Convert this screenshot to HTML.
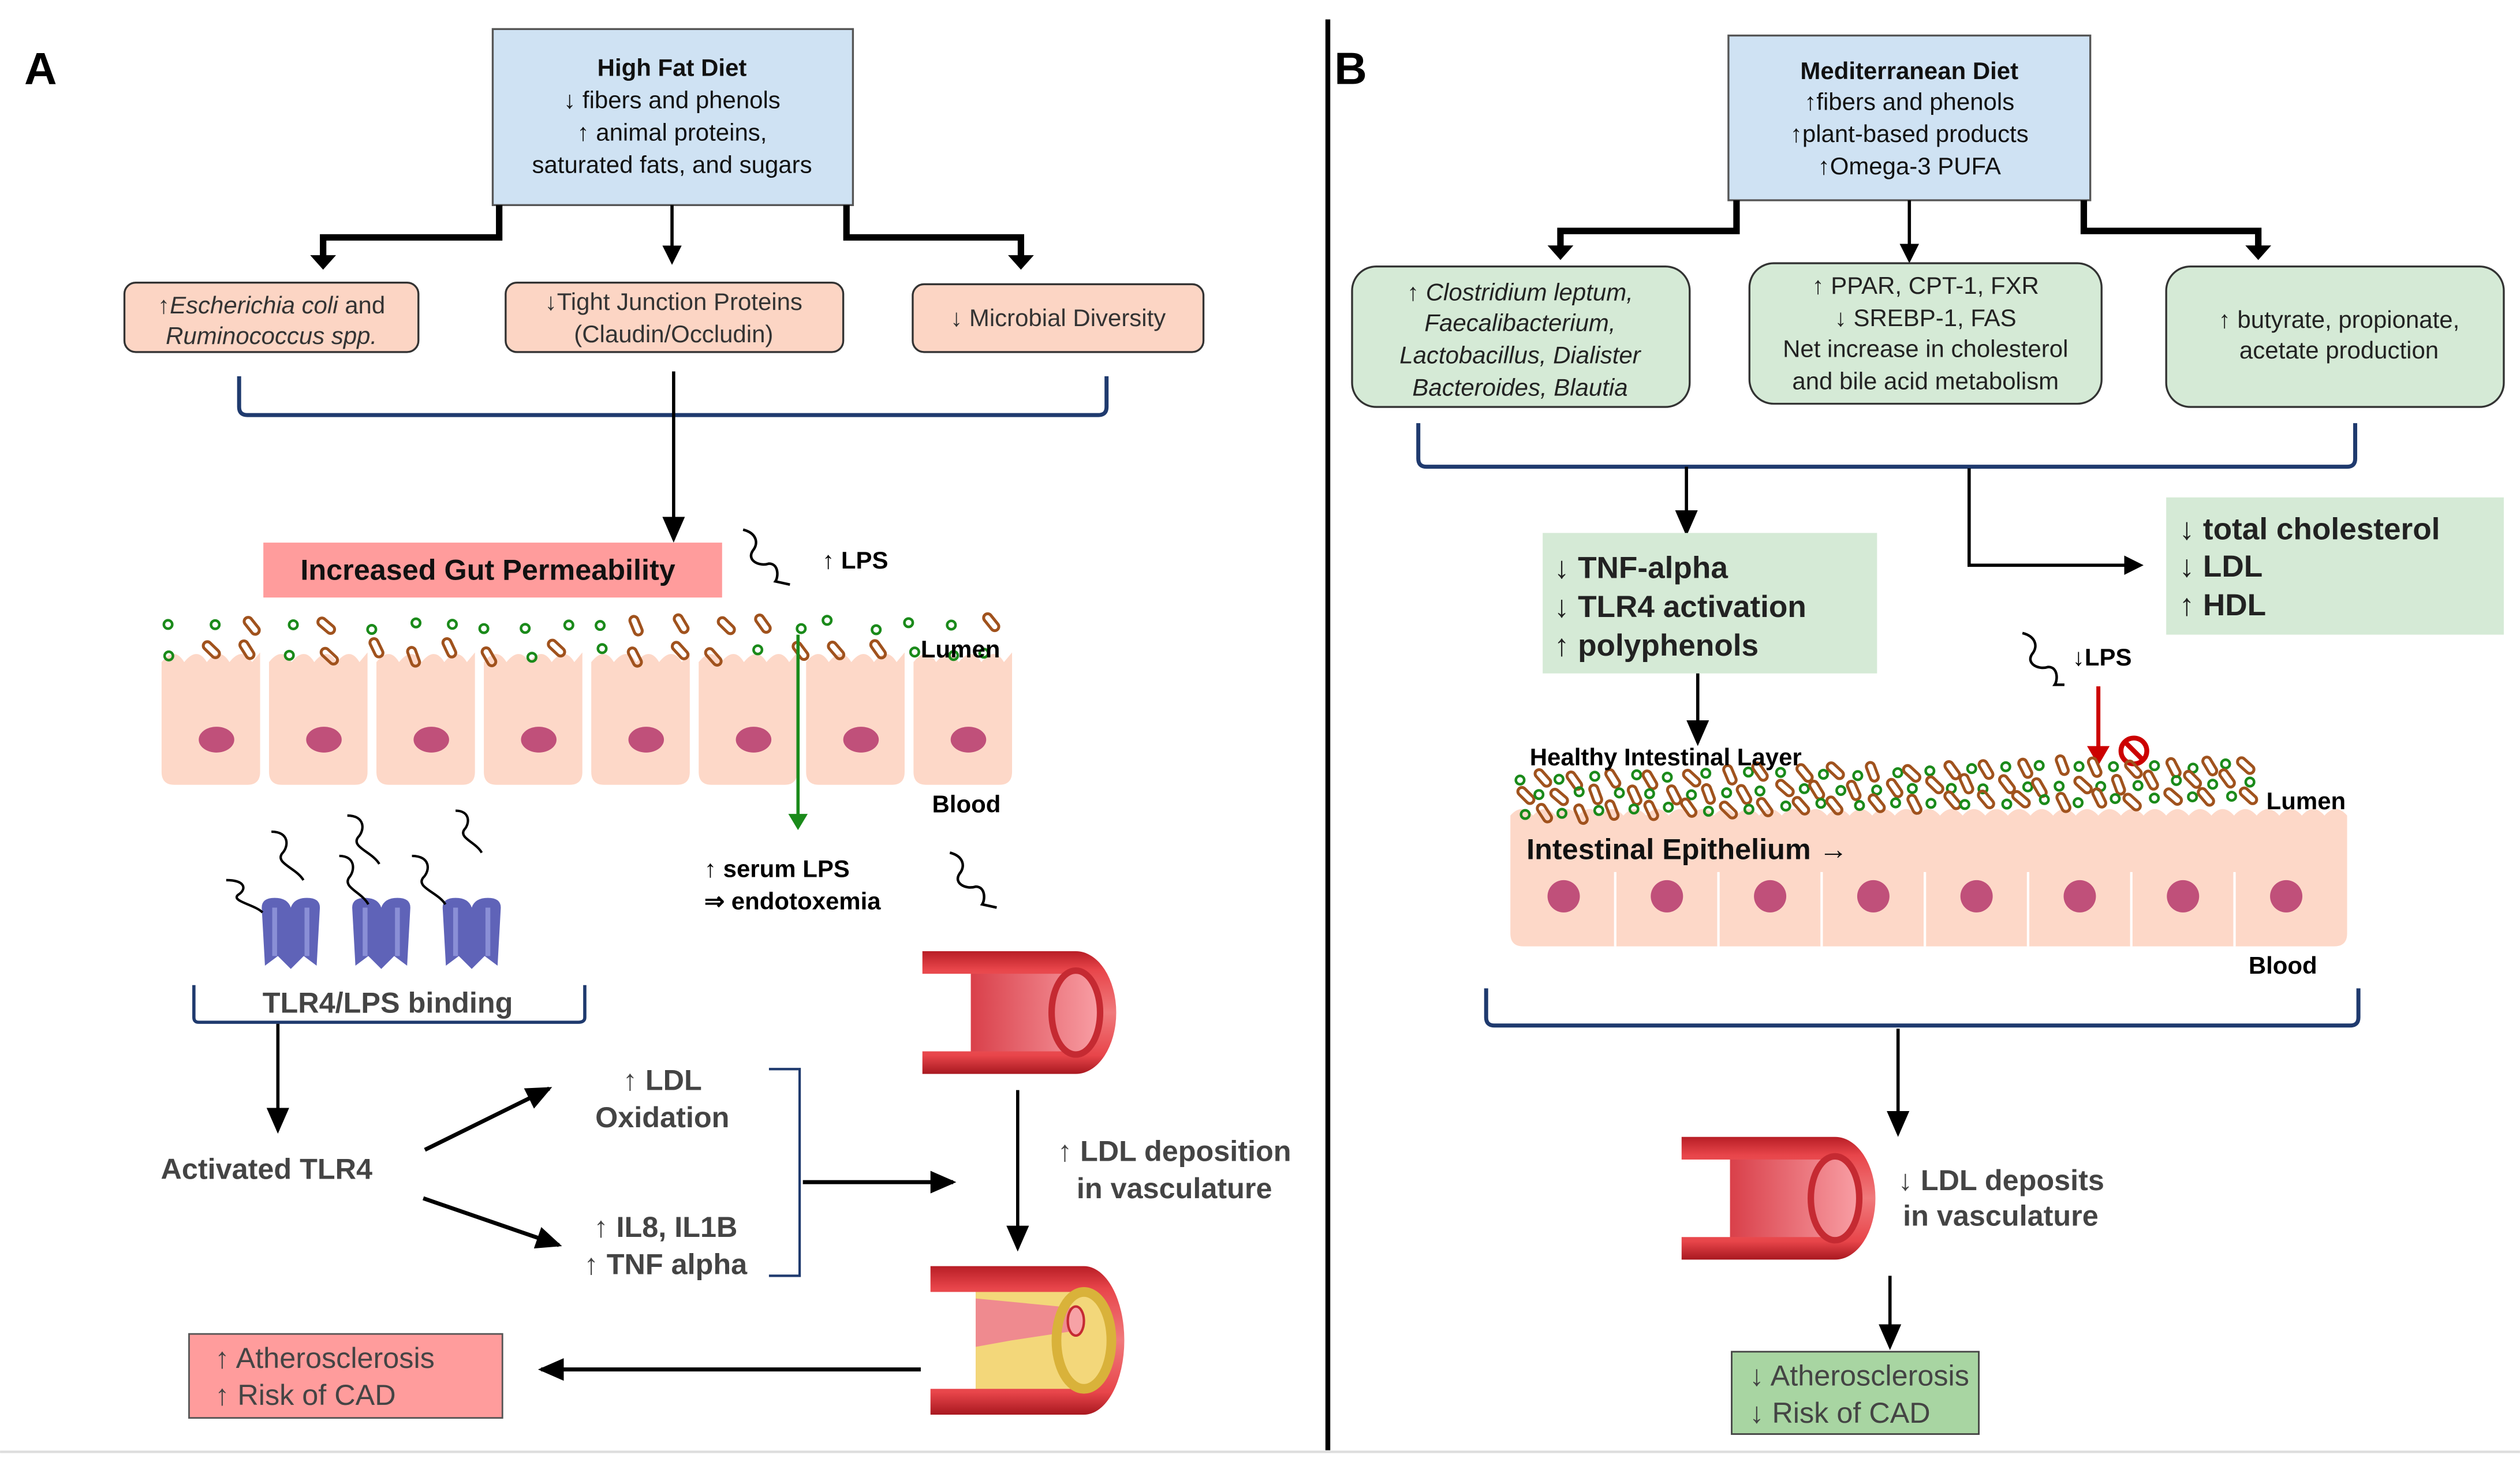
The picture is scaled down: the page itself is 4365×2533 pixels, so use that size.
<!DOCTYPE html>
<html><head><meta charset="utf-8"><style>
html,body{margin:0;padding:0;background:#fff;}
svg{display:block;}
text{font-family:"Liberation Sans",sans-serif;}
</style></head><body>
<svg id="s" xmlns="http://www.w3.org/2000/svg" width="4365" height="2533" viewBox="0 0 1560 905.3">
<defs>
<marker id="ah" markerWidth="12" markerHeight="12" refX="10" refY="6" orient="auto" markerUnits="userSpaceOnUse"><path d="M0,0 L12,6 L0,12 z" fill="#000"/></marker>
<marker id="ahb" markerWidth="16" markerHeight="14" refX="14" refY="7" orient="auto" markerUnits="userSpaceOnUse"><path d="M0,0 L16,7 L0,14 z" fill="#000"/></marker>
<marker id="ahg" markerWidth="10" markerHeight="12" refX="8" refY="6" orient="auto" markerUnits="userSpaceOnUse"><path d="M0,0 L10,6 L0,12 z" fill="#1a8a1a"/></marker>
<marker id="ahr" markerWidth="12" markerHeight="14" refX="10" refY="7" orient="auto" markerUnits="userSpaceOnUse"><path d="M0,0 L12,7 L0,14 z" fill="#c00"/></marker>
<linearGradient id="vg" x1="0" y1="0" x2="0" y2="1"><stop offset="0" stop-color="#b81e26"/><stop offset="0.15" stop-color="#e8454a"/><stop offset="0.5" stop-color="#f07a7c"/><stop offset="0.85" stop-color="#e8454a"/><stop offset="1" stop-color="#a81820"/></linearGradient>
<linearGradient id="vi" x1="0" y1="0" x2="1" y2="0"><stop offset="0" stop-color="#d9404a"/><stop offset="1" stop-color="#f9a0a6"/></linearGradient>
<g id="vessel">
<path d="M0,0 L95,0 A25,38 0 0 1 95,76 L0,76 L0,62 L30,62 L30,14 L0,14 z" fill="url(#vg)"/>
<path d="M30,14 L95,14 A16,24 0 0 1 95,62 L30,62 z" fill="url(#vi)"/>
<ellipse cx="95" cy="38" rx="15" ry="26" fill="none" stroke="#c52a32" stroke-width="4"/>
</g>
</defs>
<rect width="1560" height="905.3" fill="#fff"/>
<line x1="0" y1="899" x2="1560" y2="899" stroke="#ddd" stroke-width="1.5"/>
<line x1="822" y1="12" x2="822" y2="898" stroke="#000" stroke-width="3"/>
<text x="15" y="52" font-size="28" font-weight="bold">A</text>
<text x="826" y="52" font-size="28" font-weight="bold">B</text>

<!-- ===== A ===== -->
<rect x="305" y="18" width="223" height="109" fill="#cfe2f3" stroke="#555" stroke-width="1.2"/>
<g font-size="15" text-anchor="middle" fill="#111">
<text x="416" y="47" font-weight="bold">High Fat Diet</text>
<text x="416" y="67">↓ fibers and phenols</text>
<text x="416" y="87">↑ animal proteins,</text>
<text x="416" y="107">saturated fats, and sugars</text>
</g>
<g fill="none" stroke="#000" stroke-width="4">
<path d="M309,127 V147 H200 V160"/>
<path d="M524,127 V147 H632 V160"/>
</g>
<path d="M192,158 L208,158 L200,167 z M624,158 L640,158 L632,167 z" fill="#000"/>
<line x1="416" y1="127" x2="416" y2="162" stroke="#000" stroke-width="2" marker-end="url(#ah)"/>
<g fill="#fcd5c4" stroke="#333" stroke-width="1.2">
<rect x="77" y="175" width="182" height="43" rx="7"/>
<rect x="313" y="175" width="209" height="43" rx="7"/>
<rect x="565" y="176" width="180" height="42" rx="7"/>
</g>
<g font-size="15" fill="#333" text-anchor="middle">
<text x="168" y="194">↑<tspan font-style="italic">Escherichia coli</tspan> and</text>
<text x="168" y="213" font-style="italic">Ruminococcus spp.</text>
<text x="417" y="192">↓Tight Junction Proteins</text>
<text x="417" y="212">(Claudin/Occludin)</text>
<text x="655" y="202">↓ Microbial Diversity</text>
</g>
<path d="M148,233 V252 Q148,257 153,257 H680 Q685,257 685,252 V233" fill="none" stroke="#1f3a6e" stroke-width="2.5"/>
<line x1="417" y1="230" x2="417" y2="334" stroke="#000" stroke-width="2" marker-end="url(#ahb)"/>
<rect x="163" y="336" width="284" height="34" fill="#ff9c9c"/>
<text x="302" y="359" font-size="18" font-weight="bold" text-anchor="middle" fill="#111">Increased Gut Permeability</text>
<path d="M460,328 c8,2 10,8 6,13 c-4,6 4,10 10,8 c6,0 6,8 4,11 l9,2" fill="none" stroke="#000" stroke-width="1.6"/>
<text x="509" y="352" font-size="15" font-weight="bold">↑ LPS</text>
<g id="cellsA"></g>
<g id="bacA"></g>
<text x="570" y="407" font-size="15" font-weight="bold">Lumen</text>
<text x="577" y="503" font-size="15" font-weight="bold">Blood</text>
<line x1="494" y1="393" x2="494" y2="512" stroke="#1a8a1a" stroke-width="2" marker-end="url(#ahg)"/>
<text x="436" y="543" font-size="15" font-weight="bold">↑ serum LPS</text>
<text x="436" y="563" font-size="15" font-weight="bold">⇒ endotoxemia</text>
<path d="M588,528 c8,2 10,8 6,13 c-4,6 4,10 10,8 c6,0 6,8 4,11 l9,2" fill="none" stroke="#000" stroke-width="1.6"/>
<g id="tlr"></g>
<path d="M120,610 V630 Q120,633 123,633 H358 Q362,633 362,630 V610" fill="none" stroke="#1f3a6e" stroke-width="2"/>
<text x="240" y="627" font-size="18" font-weight="bold" text-anchor="middle" fill="#444">TLR4/LPS binding</text>
<line x1="172" y1="634" x2="172" y2="700" stroke="#000" stroke-width="2" marker-end="url(#ahb)"/>
<text x="165" y="730" font-size="18" font-weight="bold" text-anchor="middle" fill="#444">Activated TLR4</text>
<line x1="263" y1="712" x2="340" y2="674" stroke="#000" stroke-width="2.5" marker-end="url(#ahb)"/>
<line x1="262" y1="742" x2="346" y2="771" stroke="#000" stroke-width="2.5" marker-end="url(#ahb)"/>
<g font-size="18" font-weight="bold" fill="#444" text-anchor="middle">
<text x="410" y="675">↑ LDL</text>
<text x="410" y="698">Oxidation</text>
<text x="412" y="766">↑ IL8, IL1B</text>
<text x="412" y="789">↑ TNF alpha</text>
</g>
<path d="M476,662 H495 V790 H476" fill="none" stroke="#1f3a6e" stroke-width="1.5"/>
<line x1="497" y1="732" x2="590" y2="732" stroke="#000" stroke-width="2.5" marker-end="url(#ahb)"/>
<use href="#vessel" x="571" y="589"/>
<line x1="630" y1="675" x2="630" y2="773" stroke="#000" stroke-width="2" marker-end="url(#ahb)"/>
<text x="727" y="719" font-size="18" font-weight="bold" text-anchor="middle" fill="#444">↑ LDL deposition</text>
<text x="727" y="742" font-size="18" font-weight="bold" text-anchor="middle" fill="#444">in vasculature</text>
<g transform="translate(576,784)">
<path d="M0,0 L95,0 A25,46 0 0 1 95,92 L0,92 L0,76 L28,76 L28,16 L0,16 z" fill="url(#vg)"/>
<path d="M28,16 L95,16 A17,30 0 0 1 95,76 L28,76 z" fill="#f3d77a"/>
<path d="M28,20 L90,26 L90,40 L50,46 L28,50 z" fill="#ef8a8f"/>
<ellipse cx="95" cy="46" rx="17" ry="30" fill="none" stroke="#d9b23a" stroke-width="6"/>
<ellipse cx="90" cy="34" rx="5" ry="9" fill="#f7a2a6" stroke="#c52a32" stroke-width="1.5"/>
</g>
<line x1="570" y1="848" x2="335" y2="848" stroke="#000" stroke-width="2.5" marker-end="url(#ahb)"/>
<rect x="117" y="826" width="194" height="52" fill="#ff9c9c" stroke="#555" stroke-width="1"/>
<text x="133" y="847" font-size="18" fill="#444">↑ Atherosclerosis</text>
<text x="133" y="870" font-size="18" fill="#444">↑ Risk of CAD</text>

<!-- ===== B ===== -->
<rect x="1070" y="22" width="224" height="102" fill="#cfe2f3" stroke="#555" stroke-width="1.2"/>
<g font-size="15" text-anchor="middle" fill="#111">
<text x="1182" y="49" font-weight="bold">Mediterranean Diet</text>
<text x="1182" y="68">↑fibers and phenols</text>
<text x="1182" y="88">↑plant-based products</text>
<text x="1182" y="108">↑Omega-3 PUFA</text>
</g>
<g fill="none" stroke="#000" stroke-width="4">
<path d="M1075,124 V143 H966 V153"/>
<path d="M1290,124 V143 H1398 V153"/>
</g>
<path d="M958,152 L974,152 L966,161 z M1390,152 L1406,152 L1398,161 z" fill="#000"/>
<line x1="1182" y1="124" x2="1182" y2="161" stroke="#000" stroke-width="2" marker-end="url(#ah)"/>
<g fill="#d5ead6" stroke="#333" stroke-width="1.2">
<rect x="837" y="165" width="209" height="87" rx="15"/>
<rect x="1083" y="163" width="218" height="87" rx="15"/>
<rect x="1341" y="165" width="209" height="87" rx="15"/>
</g>
<g font-size="15" fill="#222" text-anchor="middle">
<text x="941" y="186">↑ <tspan font-style="italic">Clostridium leptum,</tspan></text>
<text x="941" y="205" font-style="italic">Faecalibacterium,</text>
<text x="941" y="225" font-style="italic">Lactobacillus, Dialister</text>
<text x="941" y="245" font-style="italic">Bacteroides, Blautia</text>
<text x="1192" y="182">↑ PPAR, CPT-1, FXR</text>
<text x="1192" y="202">↓ SREBP-1, FAS</text>
<text x="1192" y="221">Net increase in cholesterol</text>
<text x="1192" y="241">and bile acid metabolism</text>
<text x="1448" y="203">↑ butyrate, propionate,</text>
<text x="1448" y="222">acetate production</text>
</g>
<path d="M878,262 V284 Q878,289 883,289 H1453 Q1458,289 1458,284 V262" fill="none" stroke="#1f3a6e" stroke-width="2.5"/>
<line x1="1044" y1="289" x2="1044" y2="330" stroke="#000" stroke-width="2" marker-end="url(#ahb)"/>
<path d="M1219,290 V350 H1325" fill="none" stroke="#000" stroke-width="2" marker-end="url(#ah)"/>
<rect x="955" y="330" width="207" height="87" fill="#d5ead6"/>
<g font-size="19" font-weight="bold" fill="#222">
<text x="962" y="358">↓ TNF-alpha</text>
<text x="962" y="382">↓ TLR4 activation</text>
<text x="962" y="406">↑ polyphenols</text>
</g>
<rect x="1341" y="308" width="209" height="85" fill="#d5ead6"/>
<g font-size="19" font-weight="bold" fill="#222">
<text x="1349" y="334">↓ total cholesterol</text>
<text x="1349" y="357">↓ LDL</text>
<text x="1349" y="381">↑ HDL</text>
</g>
<line x1="1051" y1="417" x2="1051" y2="460" stroke="#000" stroke-width="2" marker-end="url(#ahb)"/>
<path d="M1252,392 c8,2 10,8 6,13 c-4,6 4,10 10,8 c6,0 6,8 4,11 l6,0" fill="none" stroke="#000" stroke-width="1.6"/>
<text x="1283" y="412" font-size="15" font-weight="bold">↓LPS</text>
<line x1="1299" y1="425" x2="1299" y2="472" stroke="#c00" stroke-width="2.5" marker-end="url(#ahr)"/>
<circle cx="1321" cy="465" r="8" fill="#fff" stroke="#c00" stroke-width="3"/>
<line x1="1315" y1="459" x2="1327" y2="471" stroke="#c00" stroke-width="3"/>
<g id="cellsB"></g>
<g id="bacB"></g>
<text x="947" y="474" font-size="15" font-weight="bold">Healthy Intestinal Layer</text>
<text x="945" y="532" font-size="18" font-weight="bold" fill="#111">Intestinal Epithelium →</text>
<text x="1403" y="501" font-size="15" font-weight="bold">Lumen</text>
<text x="1392" y="603" font-size="15" font-weight="bold">Blood</text>
<path d="M920,612 V630 Q920,635 925,635 H1455 Q1460,635 1460,630 V612" fill="none" stroke="#1f3a6e" stroke-width="2.5"/>
<line x1="1175" y1="637" x2="1175" y2="702" stroke="#000" stroke-width="2" marker-end="url(#ahb)"/>
<use href="#vessel" x="1041" y="704"/>
<text x="1175" y="737" font-size="18" font-weight="bold" fill="#444">↓ LDL deposits</text>
<text x="1178" y="759" font-size="18" font-weight="bold" fill="#444">in vasculature</text>
<line x1="1170" y1="790" x2="1170" y2="834" stroke="#000" stroke-width="2" marker-end="url(#ahb)"/>
<rect x="1072" y="837" width="153" height="51" fill="#a8d5a2" stroke="#444" stroke-width="1"/>
<text x="1083" y="858" font-size="18" fill="#444">↓ Atherosclerosis</text>
<text x="1083" y="881" font-size="18" fill="#444">↓  Risk of CAD</text>
</svg>
<script>
(function(){
var NS="http://www.w3.org/2000/svg";
function el(p,t,a){var e=document.createElementNS(NS,t);for(var k in a)e.setAttribute(k,a[k]);p.appendChild(e);return e;}
var seed=11;function r(){seed=(seed*16807)%2147483647;return seed/2147483647;}
function bac(g,x,y,green){
if(green)el(g,'circle',{cx:x,cy:y,r:2.6,fill:'none',stroke:'#1a8a1a','stroke-width':1.6});
else el(g,'rect',{x:x-6,y:y-2.5,width:12,height:5,rx:2.5,fill:'none',stroke:'#a0521d','stroke-width':1.8,transform:'rotate('+(40+r()*30)+' '+x+' '+y+')'});}
var gA=document.getElementById('cellsA');
for(var i=0;i<8;i++){var x=100+i*66.5;
el(gA,'path',{d:'M'+x+',410 q8,-10 14,0 q8,-10 14,0 q8,-10 14,0 q8,-10 14,0 l5,-6 V478 q0,8 -8,8 H'+(x+8)+' q-8,0 -8,-8 z',fill:'#fdd8c8'});
el(gA,'ellipse',{cx:x+34,cy:458,rx:11,ry:8,fill:'#c0507a'});}
var bA=document.getElementById('bacA');
for(var c=0;c<22;c++)for(var rw=0;rw<2;rw++){
var x=104+c*24+r()*10,y=384+rw*17+r()*6;bac(bA,x,y,r()<0.5);}
var gB=document.getElementById('cellsB');
el(gB,'path',{d:'M935,505 '+(function(){var s='';for(var k=0;k<37;k++)s+='q7,-8 14,0 ';return s;})()+' V578 q0,8 -8,8 H943 q-8,0 -8,-8 z',fill:'#fdd8c8'});
for(var i=0;i<8;i++){var x=968+i*63.9;el(gB,'circle',{cx:x,cy:555,r:10,fill:'#c0507a'});
if(i>0)el(gB,'line',{x1:x-32,y1:540,x2:x-32,y2:586,stroke:'#fff','stroke-width':1.5});}
var bB=document.getElementById('bacB');
for(var c=0;c<40;c++)for(var rw=0;rw<3;rw++){
var x=940+c*11.5+r()*5,y=481+rw*10+r()*4-(c*0.25);bac(bB,x,y,(c+rw)%2==0);}
var t=document.getElementById('tlr');
[180,236,292].forEach(function(x){
el(t,'path',{d:'M'+(x-18)+',562 q0,-6 8,-6 q8,0 10,6 q2,-6 10,-6 q8,0 8,6 l-2,36 l-8,-6 l-8,8 l-8,-8 l-8,6 z',fill:'#5f63b8'});
el(t,'path',{d:'M'+(x-10)+',562 v30 M'+(x+10)+',562 v30',stroke:'#8a8fd6','stroke-width':3});});
var sq=[[140,545,165,565],[168,515,190,545],[215,505,237,535],[210,530,230,560],[255,530,278,560],[282,502,300,528]];
sq.forEach(function(s){var dx=(s[2]-s[0]),dy=(s[3]-s[1]);
el(t,'path',{d:'M'+s[0]+','+s[1]+' c'+(dx*0.5)+',0 '+(dx*0.5)+','+(dy*0.3)+' '+(dx*0.3)+','+(dy*0.45)+' c-'+(dx*0.2)+','+(dy*0.2)+' '+(dx*0.4)+','+(dy*0.3)+' '+(dx*0.6)+','+(dy*0.55),fill:'none',stroke:'#000','stroke-width':1.5});});
})();
</script>
</body></html>
